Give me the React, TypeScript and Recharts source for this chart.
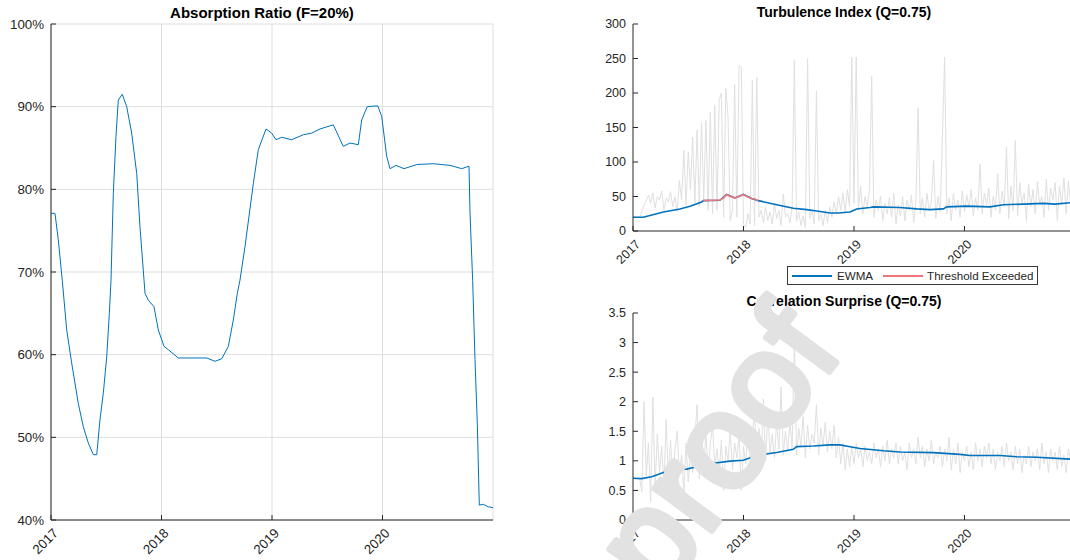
import { LineChart, Line, XAxis, YAxis, CartesianGrid } from 'recharts';

const YEAR_TICKS = [2017, 2018, 2019, 2020];
const X_DOMAIN = [2017, 2021];

// Absorption ratio (percent)
const arDates = [
  2017.0, 2017.036, 2017.066, 2017.102, 2017.142, 2017.187, 2017.247, 2017.292, 2017.338, 2017.383,
  2017.414, 2017.443, 2017.473, 2017.504, 2017.528, 2017.543, 2017.564, 2017.588, 2017.609, 2017.645,
  2017.685, 2017.73, 2017.776, 2017.805, 2017.842, 2017.851, 2017.881, 2017.932, 2017.971, 2018.023,
  2018.062, 2018.152, 2018.409, 2018.484, 2018.545, 2018.605, 2018.65, 2018.686, 2018.71, 2018.756,
  2018.831, 2018.876, 2018.946, 2018.997, 2019.036, 2019.088, 2019.178, 2019.283, 2019.359, 2019.434,
  2019.555, 2019.645, 2019.706, 2019.781, 2019.812, 2019.862, 2019.957, 2019.993, 2020.038, 2020.068,
  2020.122, 2020.195, 2020.31, 2020.46, 2020.611, 2020.717, 2020.783, 2020.792, 2020.816, 2020.837,
  2020.858, 2020.876, 2020.912, 2020.957, 2021.0,
];
const arValues = [
  77.1, 77.1, 73.9, 69.0, 63.0, 59.0, 54.1, 51.3, 49.3, 47.9,
  47.9, 52.1, 55.3, 59.7, 65.0, 69.0, 79.5, 86.4, 90.8, 91.5,
  90.0, 86.8, 81.9, 75.5, 69.0, 67.4, 66.6, 65.8, 63.0, 61.0,
  60.6, 59.6, 59.6, 59.2, 59.5, 61.0, 64.2, 67.4, 69.0, 73.1,
  80.7, 84.8, 87.3, 86.8, 86.0, 86.3, 86.0, 86.6, 86.8, 87.3,
  87.8, 85.2, 85.6, 85.4, 88.4, 90.0, 90.1, 88.8, 84.0, 82.5,
  82.9, 82.5, 83.0, 83.1, 82.9, 82.5, 82.8, 77.1, 69.0, 59.4,
  51.7, 41.8, 41.9, 41.6, 41.5,
];
const AR_TICKS = [40, 50, 60, 70, 80, 90, 100];

// raw series are sampled every 0.02 year from 2017.00
const RAW_START = 2017;
const RAW_STEP = 0.02;

const turbRaw = [
  20, 20, 20, 20, 28, 38, 44, 52, 40, 55,
  33, 50, 45, 58, 30, 48, 42, 57, 35, 50,
  28, 73, 45, 117, 38, 115, 60, 136, 40, 146,
  35, 156, 45, 160, 30, 172, 25, 182, 30, 190,
  200, 20, 207, 165, 15, 30, 212, 20, 240, 237,
  10, 5, 25, 10, 218, 8, 222, 20, 30, 12,
  35, 15, 28, 10, 40, 18, 30, 8, 54, 20,
  25, 12, 33, 247, 15, 28, 8, 22, 5, 250,
  18, 30, 10, 203, 15, 25, 8, 30, 12, 35,
  20, 42, 25, 50, 30, 55, 28, 60, 35, 252,
  40, 252, 30, 65, 25, 50, 35, 60, 224, 20,
  45, 30, 50, 15, 40, 25, 48, 20, 55, 10,
  38, 22, 50, 15, 45, 30, 52, 12, 40, 178,
  25, 48, 20, 55, 30, 42, 102, 18, 50, 28,
  135, 252, 25, 48, 15, 55, 30, 45, 20, 58,
  28, 52, 35, 60, 22, 48, 30, 97, 25, 55,
  38, 62, 20, 50, 30, 83, 25, 58, 35, 122,
  18, 65, 30, 131, 22, 70, 40, 55, 15, 68,
  35, 60, 25, 72, 40, 50, 20, 75, 30, 62,
  45, 70, 15, 65, 38, 77, 25, 72, 40, 60,
];

const turbEwmaDates = [
  2017.0, 2017.093, 2017.275, 2017.425, 2017.516, 2017.621, 2017.636, 2017.787, 2017.847, 2017.923,
  2017.998, 2018.074, 2018.134, 2018.3, 2018.451, 2018.572, 2018.662, 2018.783, 2018.858, 2018.964,
  2019.024, 2019.145, 2019.175, 2019.416, 2019.567, 2019.688, 2019.809, 2019.839, 2020.02, 2020.231,
  2020.352, 2020.533, 2020.714, 2020.819, 2020.955, 2021.0,
];
const turbEwma = [
  20, 20, 27.5, 32, 36, 42, 44, 44.5, 53, 48,
  53, 47, 44, 38, 33, 31, 29, 26, 26, 27.5,
  32, 34, 35, 34, 32, 31, 32, 35, 36, 35,
  38, 39, 40, 39, 41, 41,
];

const exceedDates = [
  2017.636, 2017.7, 2017.787, 2017.82, 2017.847, 2017.88, 2017.923, 2017.96, 2017.998, 2018.03,
  2018.074, 2018.1, 2018.134,
];
const exceedValues = [44, 44.5, 45, 48, 53, 50, 48, 50, 53, 50, 47, 46.5, 44];
const TURB_TICKS = [0, 50, 100, 150, 200, 250, 300];

const corrRaw = [
  0.7, 0.7, 0.7, 0.7, 0.48, 2.0, 0.75, 1.3, 0.31, 2.08,
  0.55, 1.45, 0.8, 1.25, 0.6, 1.7, 0.7, 1.35, 0.55, 1.2,
  1.5, 0.75, 1.1, 0.45, 1.3, 0.65, 1.15, 0.8, 1.4, 1.95,
  0.7, 1.25, 0.85, 1.5, 0.75, 1.3, 1.6, 0.9, 1.2, 0.8,
  1.35, 0.5, 1.25, 1.0, 1.5, 0.85, 1.3, 1.05, 1.45, 0.5,
  1.25, 0.95, 1.6, 1.05, 1.4, 1.85, 0.95, 1.55, 1.1, 2.05,
  1.0, 1.8, 1.15, 1.45, 1.05, 1.65, 1.2, 2.25, 1.1, 1.5,
  1.15, 1.7, 1.2, 3.05, 1.1, 1.55, 1.25, 1.75, 1.05, 1.6,
  1.2, 1.45, 1.3, 1.95, 1.1, 1.55, 1.25, 1.65, 1.15, 1.5,
  1.2, 1.6, 1.05, 1.4, 0.95, 1.3, 0.85, 1.2, 0.9, 1.25,
  0.95, 1.3, 1.05, 1.2, 0.9, 1.25, 1.0, 1.15, 0.95, 1.3,
  1.05, 1.2, 0.9, 1.25, 1.0, 1.35, 0.95, 1.2, 1.05, 1.3,
  0.95, 1.25, 1.0, 1.15, 0.85, 1.3, 1.05, 1.2, 0.95, 1.4,
  1.05, 1.25, 0.9, 1.2, 1.0, 1.35, 0.95, 1.15, 1.05, 1.25,
  0.9, 1.2, 1.0, 1.4, 0.85, 1.2, 0.95, 1.3, 0.8, 1.15,
  1.0, 1.25, 0.9, 1.15, 0.85, 1.3, 1.0, 1.2, 0.9, 1.25,
  1.05, 1.3, 0.95, 1.2, 0.85, 1.15, 1.0, 1.25, 0.9, 1.3,
  1.0, 1.15, 0.85, 1.25, 0.95, 1.2, 0.8, 1.1, 0.95, 1.25,
  0.9, 1.15, 1.0, 1.2, 0.85, 1.3, 0.95, 1.15, 0.8, 1.2,
  1.0, 1.15, 0.85, 1.25, 0.9, 1.1, 0.8, 1.2, 0.95, 1.1,
];

const corrEwmaDates = [
  2017.0, 2017.078, 2017.169, 2017.214, 2017.335, 2017.395, 2017.486, 2017.576, 2017.727, 2017.878,
  2017.998, 2018.089, 2018.179, 2018.3, 2018.451, 2018.481, 2018.632, 2018.783, 2018.873, 2018.964,
  2019.055, 2019.266, 2019.416, 2019.718, 2019.959, 2020.05, 2020.322, 2020.472, 2020.653, 2020.955,
  2021.0,
];
const corrEwma = [
  0.705, 0.7, 0.73, 0.76, 0.845, 0.86, 0.86, 0.9, 0.96, 0.996,
  1.01, 1.07, 1.11, 1.14, 1.195, 1.24, 1.25, 1.27, 1.27, 1.24,
  1.21, 1.17, 1.15, 1.14, 1.11, 1.09, 1.09, 1.07, 1.06, 1.03,
  1.03,
];
const CORR_TICKS = [0, 0.5, 1, 1.5, 2, 2.5, 3, 3.5];

const BLUE = '#0072BD';
const GRAY = '#e0e0e0';
const RED = '#f0757a';
const AXIS = '#262626';
const FONT = '"Liberation Sans", Arial, Helvetica, sans-serif';

const pairs = (dates: number[], values: number[]) => dates.map((t, i) => ({ t, v: values[i] }));
const rawPairs = (values: number[]) =>
  values.map((v, i) => ({ t: +(RAW_START + i * RAW_STEP).toFixed(3), v }));

const arData = pairs(arDates, arValues);
const turbRawData = rawPairs(turbRaw);
const turbEwmaData = pairs(turbEwmaDates, turbEwma);
const exceedData = pairs(exceedDates, exceedValues);
const corrRawData = rawPairs(corrRaw);
const corrEwmaData = pairs(corrEwmaDates, corrEwma);

const YearTick = ({ x, y, payload, fontSize }: any) => {
  const ax = x + 8;
  const ay = y + 14;
  return (
    <text
      x={ax}
      y={ay}
      textAnchor="end"
      fill={AXIS}
      fontSize={fontSize}
      transform={`rotate(-45 ${ax} ${ay})`}
    >
      {payload.value}
    </text>
  );
};

// MATLAB-like box: inward ticks on all four sides
const boxAxes = (yDomain: number[], yTicks: number[]) => [
  <XAxis
    key="top"
    xAxisId="top"
    orientation="top"
    type="number"
    dataKey="t"
    domain={X_DOMAIN}
    ticks={YEAR_TICKS}
    interval={0}
    height={0}
    tick={false}
    tickSize={-5}
    stroke={AXIS}
    allowDataOverflow
  />,
  <YAxis
    key="right"
    yAxisId="right"
    orientation="right"
    type="number"
    domain={yDomain}
    ticks={yTicks}
    interval={0}
    width={0}
    tick={false}
    tickSize={-5}
    stroke={AXIS}
    allowDataOverflow
  />,
];

const Title = ({ text, cx, top, size }: { text: string; cx: number; top: number; size: number }) => (
  <div
    style={{
      position: 'absolute',
      left: cx - 200,
      width: 400,
      top,
      textAlign: 'center',
      fontWeight: 'bold',
      fontSize: size,
      color: '#000',
      lineHeight: 1,
    }}
  >
    {text}
  </div>
);

const LegendSwatch = ({ color }: { color: string }) => (
  <span style={{ display: 'inline-block', width: 40, height: 2, background: color }} />
);

const App = () => {
  return (
    <div
      style={{
        position: 'fixed',
        left: 0,
        top: 0,
        width: 1070,
        height: 560,
        overflow: 'hidden',
        background: '#fff',
        fontFamily: FONT,
      }}
    >
      {/* Absorption ratio */}
      <div style={{ position: 'absolute', left: 0, top: 0 }}>
        <LineChart width={500} height={560} margin={{ top: 24, right: 7, bottom: 0, left: 0 }}>
          <CartesianGrid stroke="#dedede" />
          <XAxis
            type="number"
            dataKey="t"
            domain={X_DOMAIN}
            ticks={YEAR_TICKS}
            interval={0}
            height={40}
            tickSize={-5}
            tickMargin={5}
            stroke={AXIS}
            tick={<YearTick fontSize={13.3} />}
            allowDataOverflow
          />
          <YAxis
            type="number"
            domain={[40, 100]}
            ticks={AR_TICKS}
            interval={0}
            width={51}
            tickSize={-5}
            tickMargin={12}
            stroke={AXIS}
            tick={{ fill: AXIS, fontSize: 13.3 }}
            tickFormatter={(v: number) => `${v}%`}
            allowDataOverflow
          />
          {boxAxes([40, 100], AR_TICKS)}
          <Line
            data={arData}
            dataKey="v"
            type="linear"
            stroke={BLUE}
            strokeWidth={1}
            dot={false}
            isAnimationActive={false}
          />
        </LineChart>
        <Title text="Absorption Ratio (F=20%)" cx={262} top={5} size={15} />
      </div>

      {/* Turbulence index */}
      <div style={{ position: 'absolute', left: 560, top: 0 }}>
        <LineChart width={520} height={300} margin={{ top: 24, right: 5, bottom: 0, left: 0 }}>
          <XAxis
            type="number"
            dataKey="t"
            domain={X_DOMAIN}
            ticks={YEAR_TICKS}
            interval={0}
            height={69}
            tickSize={-5}
            tickMargin={5}
            stroke={AXIS}
            tick={<YearTick fontSize={12.5} />}
            allowDataOverflow
          />
          <YAxis
            type="number"
            domain={[0, 300]}
            ticks={TURB_TICKS}
            interval={0}
            width={73}
            tickSize={-5}
            tickMargin={12}
            stroke={AXIS}
            tick={{ fill: AXIS, fontSize: 12.5 }}
            allowDataOverflow
          />
          {boxAxes([0, 300], TURB_TICKS)}
          <Line data={turbRawData} dataKey="v" type="linear" stroke={GRAY} strokeWidth={1} dot={false} isAnimationActive={false} />
          <Line data={turbEwmaData} dataKey="v" type="linear" stroke={BLUE} strokeWidth={1.6} dot={false} isAnimationActive={false} />
          <Line data={exceedData} dataKey="v" type="linear" stroke={RED} strokeWidth={1.6} dot={false} isAnimationActive={false} />
        </LineChart>
        <Title text="Turbulence Index (Q=0.75)" cx={284} top={5} size={14} />
      </div>

      {/* legend */}
      <div
        style={{
          position: 'absolute',
          left: 787,
          top: 266,
          width: 249,
          height: 17,
          border: '1px solid #3a3a3a',
          background: '#fff',
          fontSize: 11.6,
          color: AXIS,
          display: 'flex',
          alignItems: 'center',
        }}
      >
        <span style={{ marginLeft: 4, display: 'flex' }}>
          <LegendSwatch color={BLUE} />
        </span>
        <span style={{ marginLeft: 5 }}>EWMA</span>
        <span style={{ marginLeft: 10, display: 'flex' }}>
          <LegendSwatch color={RED} />
        </span>
        <span style={{ marginLeft: 4 }}>Threshold Exceeded</span>
      </div>

      {/* Correlation surprise */}
      <div style={{ position: 'absolute', left: 560, top: 289 }}>
        <LineChart width={520} height={271} margin={{ top: 24, right: 5, bottom: 0, left: 0 }}>
          <XAxis
            type="number"
            dataKey="t"
            domain={X_DOMAIN}
            ticks={YEAR_TICKS}
            interval={0}
            height={40}
            tickSize={-5}
            tickMargin={5}
            stroke={AXIS}
            tick={<YearTick fontSize={12.5} />}
            allowDataOverflow
          />
          <YAxis
            type="number"
            domain={[0, 3.5]}
            ticks={CORR_TICKS}
            interval={0}
            width={73}
            tickSize={-5}
            tickMargin={12}
            stroke={AXIS}
            tick={{ fill: AXIS, fontSize: 12.5 }}
            allowDataOverflow
          />
          {boxAxes([0, 3.5], CORR_TICKS)}
          <Line data={corrRawData} dataKey="v" type="linear" stroke={GRAY} strokeWidth={1} dot={false} isAnimationActive={false} />
          <Line data={corrEwmaData} dataKey="v" type="linear" stroke={BLUE} strokeWidth={1.6} dot={false} isAnimationActive={false} />
        </LineChart>
        <Title text="Correlation Surprise (Q=0.75)" cx={284} top={5} size={14} />
      </div>

      {/* watermark */}
      <svg
        width={1070}
        height={560}
        style={{ position: 'absolute', left: 0, top: 0, pointerEvents: 'none' }}
      >
        <text
          x={753}
          y={475}
          textAnchor="middle"
          fontSize={135}
          fill="#e2e2e2"
          stroke="#e2e2e2"
          strokeWidth={6}
          strokeLinejoin="round"
          transform="rotate(-53.5 753 475)"
        >
          proof
        </text>
      </svg>
    </div>
  );
};

export default App;
